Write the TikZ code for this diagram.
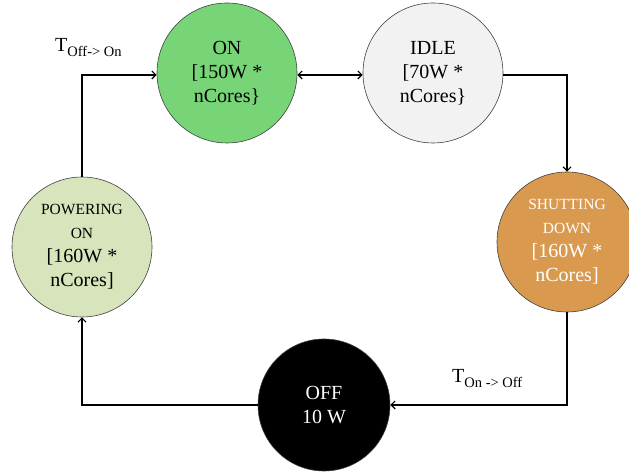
\documentclass[tikz,border=0pt]{standalone}
\usepackage{fontspec}
\setmainfont{Liberation Serif}
\usetikzlibrary{arrows.meta}
\definecolor{ongreen}{HTML}{78D577}
\definecolor{idlegray}{HTML}{F2F2F2}
\definecolor{pwrgreen}{HTML}{D8E4BC}
\definecolor{shutorange}{HTML}{D99A50}
\tikzset{
    state/.style={circle, draw=black!75, line width=0.6pt, minimum size=140pt, inner sep=0pt,
        align=center, font=\fontsize{20}{24}\selectfont},
    tip/.style={-{Straight Barb[length=4pt,width=8pt,line width=1.2pt]}},
    trans/.style={line width=1.5pt, tip},
    lbl/.style={anchor=base west, inner sep=0pt, font=\fontsize{20}{24}\selectfont}
}
\newcommand{\sublbl}[1]{\raisebox{-5pt}{\fontsize{14.5}{15}\selectfont #1}}
\newcommand{\smalltxt}{\fontsize{15.5}{19}\selectfont}
\newcommand{\bigtxt}{\fontsize{20}{24}\selectfont}
\begin{document}
\begin{tikzpicture}[x=1pt,y=1pt]
    \useasboundingbox (0,0) rectangle (629,473);
    % states, clockwise from the top left
    \node[state, fill=ongreen] (on) at (227,400) {ON\\{}[150W *\\nCores\}};
    \node[state, fill=idlegray] (idle) at (433,400) {IDLE\\{}[70W *\\nCores\}};
    \node[state, fill=shutorange, text=white] (shut) at (567,231)
        {\smalltxt SHUTTING\\\smalltxt DOWN\\\bigtxt{}[160W *\\\bigtxt nCores]};
    \node[state, fill=black, text=white, minimum size=132pt] (off) at (324,68) {OFF\\10 W};
    \node[state, fill=pwrgreen] (pwr) at (82,226)
        {\smalltxt POWERING\\\smalltxt ON\\\bigtxt{}[160W *\\\bigtxt nCores]};
    % transitions
    \draw[line width=1.5pt, {Straight Barb[length=4pt,width=8pt,line width=1.2pt]}-{Straight Barb[length=4pt,width=8pt,line width=1.2pt]}]
        ([yshift=-2pt]on.east) -- ([yshift=-2pt]idle.west);
    \draw[line width=1.5pt, tip] ([yshift=-2pt]idle.east) -| (shut.north);
    \draw[trans] (shut.south) |- (off.east);
    \draw[trans] (off.west) -| (pwr.south);
    \draw[trans] (pwr.north) |- ([yshift=-2pt]on.west);
    % transition times
    \node[lbl] (toffon) at (55,421) {T\sublbl{Off-> On}};
    \node[lbl] (tonoff) at (452,90) {T\sublbl{On -> Off}};
\end{tikzpicture}
\end{document}
